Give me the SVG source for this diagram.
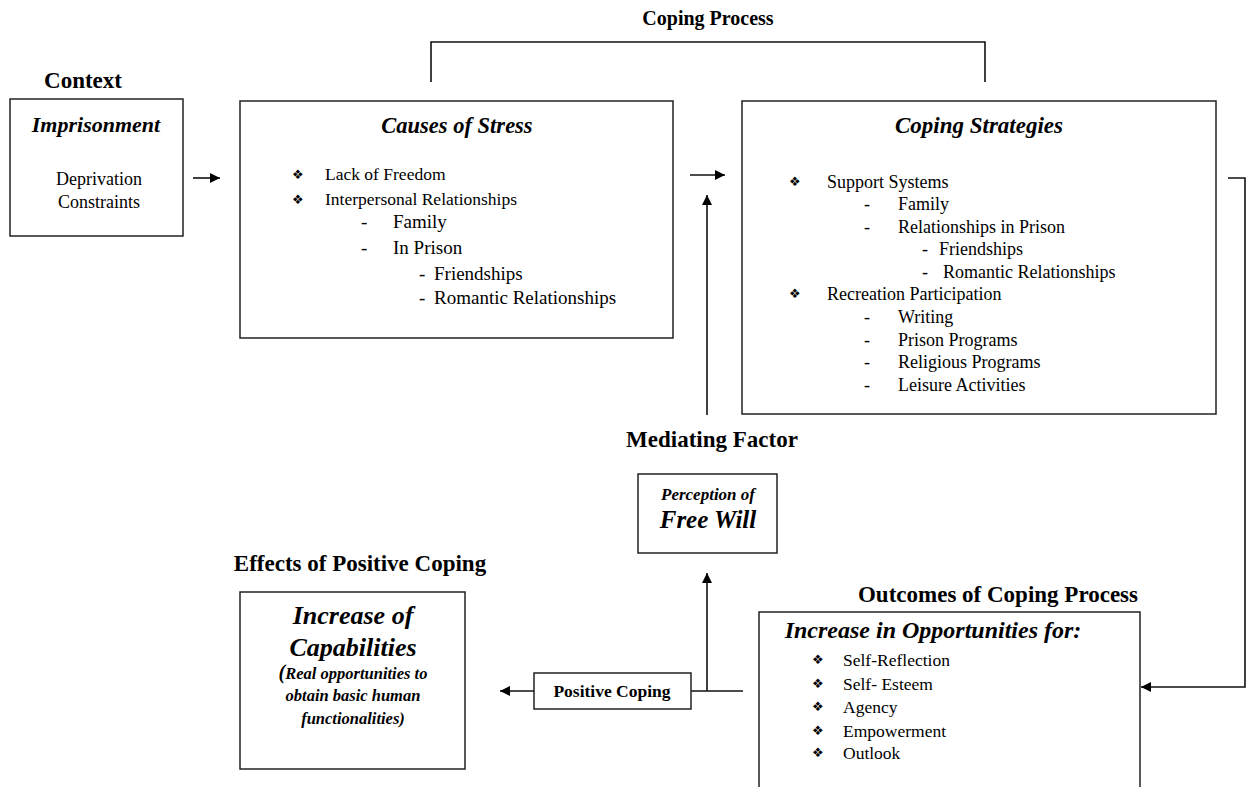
<svg xmlns="http://www.w3.org/2000/svg" width="1251" height="787" viewBox="0 0 1251 787">
<defs>
<style>
.box{fill:#fff;stroke:#222;stroke-width:1.5}
.ln{fill:none;stroke:#111;stroke-width:1.6}
.hd{font-family:"Liberation Serif","Times New Roman",serif;font-weight:bold;fill:#000}
.ti{font-family:"Liberation Serif","Times New Roman",serif;font-weight:bold;font-style:italic;fill:#000}
.tx{font-family:"Liberation Serif","Times New Roman",serif;fill:#000}
.bu{font-family:"DejaVu Sans",sans-serif;font-size:13px;fill:#000}
.bi{font-family:"Liberation Serif","Times New Roman",serif;font-weight:bold;font-style:italic;fill:#000}
</style>
<marker id="ah" viewBox="0 0 10 10" refX="10" refY="5" markerWidth="10" markerHeight="10" markerUnits="userSpaceOnUse" orient="auto">
<path d="M0,0 L10,5 L0,10 z" fill="#000"/>
</marker>
</defs>

<text class="hd" x="708" y="25" text-anchor="middle" font-size="20">Coping Process</text>
<text class="hd" x="83" y="88" text-anchor="middle" font-size="23">Context</text>
<text class="hd" x="712" y="447" text-anchor="middle" font-size="23">Mediating Factor</text>
<text class="hd" x="360" y="571" text-anchor="middle" font-size="23">Effects of Positive Coping</text>
<text class="hd" x="998" y="602" text-anchor="middle" font-size="23">Outcomes of Coping Process</text>

<g id="connectors">
<path class="ln" d="M431,82 V42 H985 V82"/>
<line class="ln" x1="193" y1="178" x2="220" y2="178" marker-end="url(#ah)"/>
<line class="ln" x1="690" y1="175" x2="725" y2="175" marker-end="url(#ah)"/>
<line class="ln" x1="707" y1="415" x2="707" y2="195" marker-end="url(#ah)"/>
<path class="ln" d="M1228,178 H1245 V687 H1141" marker-end="url(#ah)"/>
<line class="ln" x1="743" y1="691" x2="691" y2="691"/>
<line class="ln" x1="707" y1="691" x2="707" y2="573" marker-end="url(#ah)"/>
<line class="ln" x1="534" y1="691" x2="500" y2="691" marker-end="url(#ah)"/>
</g>

<g id="context">
<rect class="box" x="10" y="99" width="173" height="137"/>
<text class="ti" x="96" y="132" text-anchor="middle" font-size="22">Imprisonment</text>
<text class="tx" x="99" y="185" text-anchor="middle" font-size="18">Deprivation</text>
<text class="tx" x="99" y="208" text-anchor="middle" font-size="18">Constraints</text>
</g>

<g id="causes">
<rect class="box" x="240" y="101" width="433" height="237"/>
<text class="ti" x="457" y="133" text-anchor="middle" font-size="22.5">Causes of Stress</text>
<text class="bu" x="292" y="179">❖</text>
<text class="tx" x="325" y="180" font-size="17.5">Lack of Freedom</text>
<text class="bu" x="292" y="204">❖</text>
<text class="tx" x="325" y="205" font-size="17.5">Interpersonal Relationships</text>
<g class="tx" font-size="19">
<text x="361" y="228">-</text>
<text x="393" y="228">Family</text>
<text x="361" y="254">-</text>
<text x="393" y="254">In Prison</text>
<text x="419" y="280">-</text>
<text x="434" y="280">Friendships</text>
<text x="419" y="304">-</text>
<text x="434" y="304">Romantic Relationships</text>
</g>
</g>

<g id="strategies">
<rect class="box" x="742" y="101" width="474" height="313"/>
<text class="ti" x="979" y="133" text-anchor="middle" font-size="23">Coping Strategies</text>
<text class="bu" x="789" y="186">❖</text>
<text class="bu" x="789" y="298">❖</text>
<g class="tx" font-size="18">
<text x="827" y="188">Support Systems</text>
<text x="864" y="210">-</text><text x="898" y="210">Family</text>
<text x="864" y="233">-</text><text x="898" y="233">Relationships in Prison</text>
<text x="922" y="255">-</text><text x="939" y="255">Friendships</text>
<text x="922" y="278">-</text><text x="943" y="278">Romantic Relationships</text>
<text x="827" y="300">Recreation Participation</text>
<text x="864" y="323">-</text><text x="898" y="323">Writing</text>
<text x="864" y="346">-</text><text x="898" y="346">Prison Programs</text>
<text x="864" y="368">-</text><text x="898" y="368">Religious Programs</text>
<text x="864" y="391">-</text><text x="898" y="391">Leisure Activities</text>
</g>
</g>

<g id="mediating">
<rect class="box" x="638" y="474" width="139" height="79"/>
<text class="bi" x="708" y="500" text-anchor="middle" font-size="17">Perception of</text>
<text class="bi" x="708" y="528" text-anchor="middle" font-size="25">Free Will</text>
</g>

<g id="effects">
<rect class="box" x="240" y="592" width="225" height="177"/>
<text class="bi" x="353" y="624" text-anchor="middle" font-size="26">Increase of</text>
<text class="bi" x="353" y="656" text-anchor="middle" font-size="26">Capabilities</text>
<text class="bi" x="353" y="679" text-anchor="middle" font-size="16.5"><tspan font-size="20">(</tspan>Real opportunities to</text>
<text class="bi" x="353" y="701" text-anchor="middle" font-size="16.5">obtain basic human</text>
<text class="bi" x="353" y="724" text-anchor="middle" font-size="16.5">functionalities)</text>
</g>

<g id="positive-coping">
<rect class="box" x="534" y="673" width="157" height="36"/>
<text class="hd" x="612" y="697" text-anchor="middle" font-size="17.5">Positive Coping</text>
</g>

<g id="outcomes">
<rect class="box" x="759" y="612" width="381" height="200"/>
<text class="ti" x="933" y="638" text-anchor="middle" font-size="24">Increase in Opportunities for:</text>
<text class="bu" x="812" y="664">❖</text>
<text class="bu" x="812" y="688">❖</text>
<text class="bu" x="812" y="711">❖</text>
<text class="bu" x="812" y="735">❖</text>
<text class="bu" x="812" y="757">❖</text>
<g class="tx" font-size="17.5">
<text x="843" y="666">Self-Reflection</text>
<text x="843" y="690">Self- Esteem</text>
<text x="843" y="713">Agency</text>
<text x="843" y="737">Empowerment</text>
<text x="843" y="759">Outlook</text>
</g>
</g>
</svg>
